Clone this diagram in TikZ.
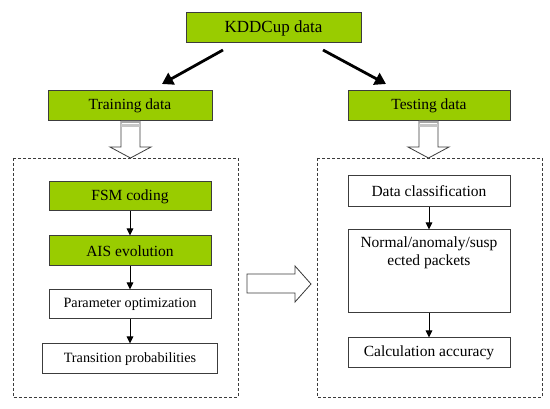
\documentclass[tikz,border=0pt]{standalone}
\usepackage{fontspec}
\setmainfont{Liberation Serif}
\usetikzlibrary{arrows.meta}
\definecolor{boxgreen}{RGB}{153,204,0}
\definecolor{edgegray}{RGB}{60,60,60}
\begin{document}
\begin{tikzpicture}[x=1pt,y=-1pt,
  base/.style={draw=edgegray,line width=1pt,inner sep=0pt,anchor=center,align=center,
    font=\fontsize{15.5}{18}\selectfont},
  gbox/.style={base,fill=boxgreen},
  wbox/.style={base,fill=white},
  small/.style={font=\fontsize{14.2}{17}\selectfont},
  link/.style={draw=black,line width=0.9pt,-{Triangle[length=7pt,width=6.5pt]}},
  bigarrow/.style={draw=black,line width=2.8pt,-{Triangle[length=11pt,width=13pt]}},
  hollow/.style={draw=edgegray,line width=0.8pt,fill=white,line join=miter},
  frame/.style={draw=edgegray,line width=0.9pt,dash pattern=on 3pt off 2pt}]
\useasboundingbox (0,0) rectangle (550,409);
\fill[white] (0,0) rectangle (550,409);

% top
\node[gbox,minimum width=175pt,minimum height=30pt,font=\fontsize{17}{20}\selectfont] (kdd) at (273.5,28) {KDDCup data};
\node[gbox,minimum width=164pt,minimum height=30pt] (train) at (130,106) {Training data};
\node[gbox,minimum width=162pt,minimum height=30pt] (test) at (429,106) {Testing data};

\coordinate (ka) at (223,50);
\coordinate (kb) at (162,84);
\coordinate (kc) at (323,50);
\coordinate (kd) at (386,84);
\draw[bigarrow] (ka) -- (kb);
\draw[bigarrow] (kc) -- (kd);

% dashed frames
\draw[frame] (13,158) rectangle (238,397);
\draw[frame] (317,158) rectangle (542,397);

% hollow down arrows
\draw[hollow] (121,121) -- (121,147) -- (110,147) -- (130.5,158) -- (151,147) -- (140,147) -- (140,121);
\fill[gray!70] (121.4,121) rectangle (139.6,123);
\fill[gray!45] (121.4,124.5) rectangle (139.6,127);
\draw[hollow] (419,121) -- (419,147) -- (408,147) -- (428.5,158) -- (449,147) -- (438,147) -- (438,121);
\fill[gray!70] (419.4,121) rectangle (437.6,123);
\fill[gray!45] (419.4,124.5) rectangle (437.6,127);

% hollow right arrow
\draw[hollow] (247,274) -- (295,274) -- (295,266) -- (311,284) -- (295,302) -- (295,293) -- (247,293) -- cycle;

% left column
\node[gbox,minimum width=162pt,minimum height=29pt] (fsm) at (130,196.5) {FSM coding};
\node[gbox,minimum width=162pt,minimum height=30pt] (ais) at (130,251) {AIS evolution};
\node[wbox,small,minimum width=162pt,minimum height=29pt] (param) at (130,304.5) {Parameter optimization};
\node[wbox,small,minimum width=175pt,minimum height=30pt] (trans) at (130,359) {Transition probabilities};
\draw[link] (fsm) -- (ais);
\draw[link] (ais) -- (param);
\draw[link] (param) -- (trans);

% right column
\node[wbox,minimum width=162pt,minimum height=31pt] (dcls) at (429,191.5) {Data classification};
\node[wbox,minimum width=162pt,minimum height=83pt] (norm) at (429,271.5) {};
\node[inner sep=0pt,align=center,font=\fontsize{15.5}{18}\selectfont] (normtext) at (429,253) {Normal/anomaly/susp\\ected packets};
\node[wbox,minimum width=162pt,minimum height=30pt] (calc) at (429,353) {Calculation accuracy};
\draw[link] (dcls) -- (norm);
\draw[link] (norm) -- (calc);
\end{tikzpicture}
\end{document}
